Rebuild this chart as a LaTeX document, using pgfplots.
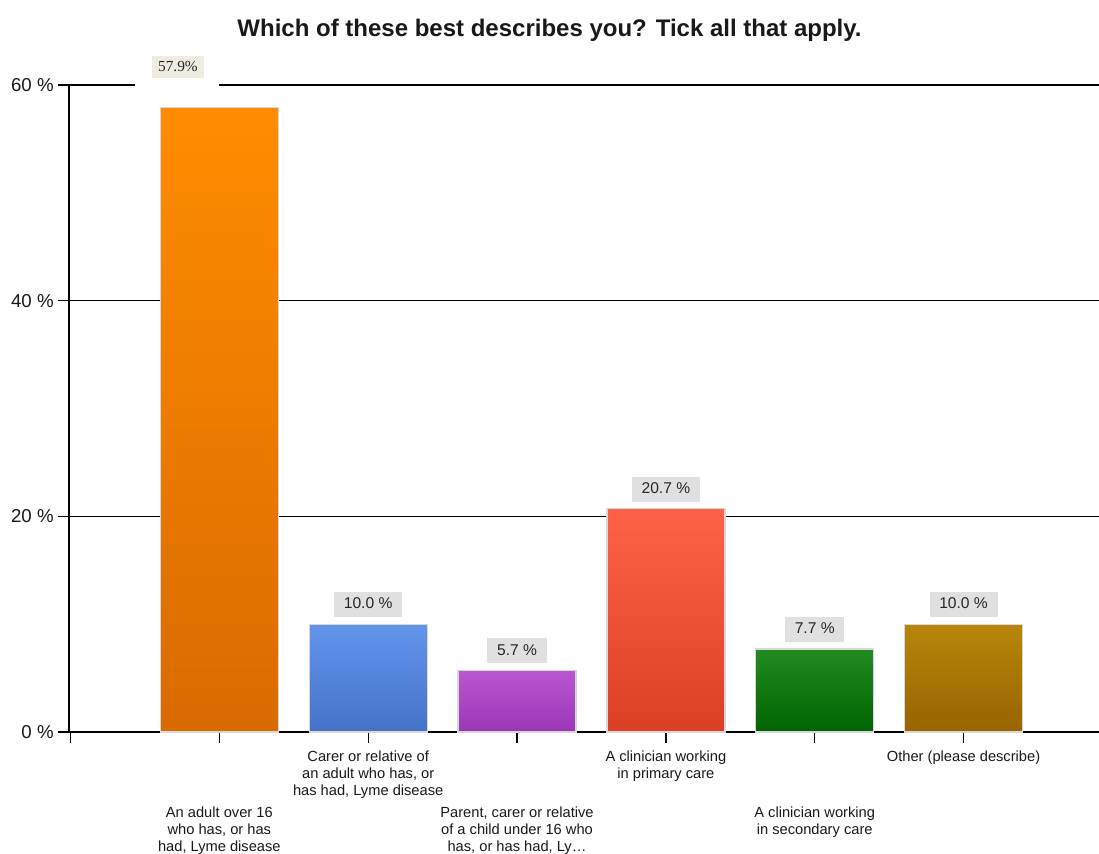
\documentclass[border=0pt]{standalone}
\usepackage{pgfplots}
\pgfplotsset{compat=1.18}
\usepackage{fontspec}
\setmainfont{Liberation Sans}
\newfontfamily\seriffont{Liberation Serif}
\definecolor{oT}{HTML}{FF8C00}\definecolor{oB}{HTML}{D96A00}
\definecolor{bT}{HTML}{6495ED}\definecolor{bB}{HTML}{4472C8}
\definecolor{pT}{HTML}{BA55D3}\definecolor{pB}{HTML}{9A35B5}
\definecolor{rT}{HTML}{FF6347}\definecolor{rB}{HTML}{DC4024}
\definecolor{gT}{HTML}{228B22}\definecolor{gB}{HTML}{006400}
\definecolor{yT}{HTML}{B8860B}\definecolor{yB}{HTML}{996300}
\definecolor{lblbox}{HTML}{E0E0E0}
\definecolor{beige}{HTML}{EEEBE1}
\definecolor{barline}{HTML}{D8D8D8}
\pgfplotsset{vlabel/.style={
  nodes near coords={\pgfmathprintnumber[fixed,fixed zerofill,precision=1]{\pgfplotspointmeta}~\%},
  every node near coord/.append style={anchor=south, yshift=4.9pt, fill=lblbox, text=black!85,
     font=\fontsize{11.7}{12.75}\selectfont, inner xsep=7.3pt, inner ysep=4pt, text height=8.5pt, text depth=2.2pt}}}
\begin{document}
\begin{tikzpicture}
\begin{axis}[
  at={(0,0)}, anchor=south west,
  scale only axis, width=772.5pt, height=485.25pt,
  xmin=-0.01, xmax=6.91, ymin=0, ymax=60,
  axis x line*=bottom, axis y line*=left,
  axis line style={black, line width=1pt},
  clip=false,
  ytick={0,20,40,60}, yticklabels={0 \%,20 \%,40 \%,60 \%},
  ymajorgrids, grid style={black, line width=1pt},
  tick align=outside, major tick length=8pt,
  tick style={black, line width=1pt},
  xtick={0,2,4,6},
  xticklabels={,{Carer or relative of\\an adult who has, or\\has had, Lyme disease},{A clinician working\\in primary care},{Other (please describe)}},
  extra x ticks={1,3,5},
  extra x tick labels={{An adult over 16\\who has, or has\\had, Lyme disease},{Parent, carer or relative\\of a child under 16 who\\has, or has had, Ly\ldots},{A clinician working\\in secondary care}},
  extra x tick style={grid=none, xticklabel style={yshift=-42pt}},
  xticklabel style={align=center, font=\fontsize{11}{12.75}\selectfont, text=black!90, anchor=north, yshift=-2.5pt},
  yticklabel style={font=\fontsize{14}{16}\selectfont, text=black!90},
  /pgf/number format/assume math mode=true,
  ybar, bar width=88.5pt, bar shift=0pt,
  every axis plot/.append style={draw=barline, line width=1pt},
]
\addplot[top color=oT, bottom color=oB] coordinates {(1,57.9)};
\addplot[top color=bT, bottom color=bB, vlabel] coordinates {(2,10.0)};
\addplot[top color=pT, bottom color=pB, vlabel] coordinates {(3,5.7)};
\addplot[top color=rT, bottom color=rB, vlabel] coordinates {(4,20.7)};
\addplot[top color=gT, bottom color=gB, vlabel] coordinates {(5,7.7)};
\addplot[top color=yT, bottom color=yB, vlabel] coordinates {(6,10.0)};
\fill[white] (axis cs:0.433,59.4) rectangle (axis cs:0.995,60.6);
\node[fill=beige, text=black!85, font=\seriffont\fontsize{11.5}{13}\selectfont, minimum width=39pt, minimum height=16.5pt, inner sep=0pt] at (axis cs:0.722,61.67) {57.9\%};
\end{axis}
\node[font=\bfseries\fontsize{18}{21}\selectfont, text=black!90] at (360.4pt,526.5pt) {Which of these best describes you? Tick all that apply.};
\pgfresetboundingbox
\path (-51.75pt,-90.75pt) rectangle (772.5pt,549pt);
\end{tikzpicture}
\end{document}
